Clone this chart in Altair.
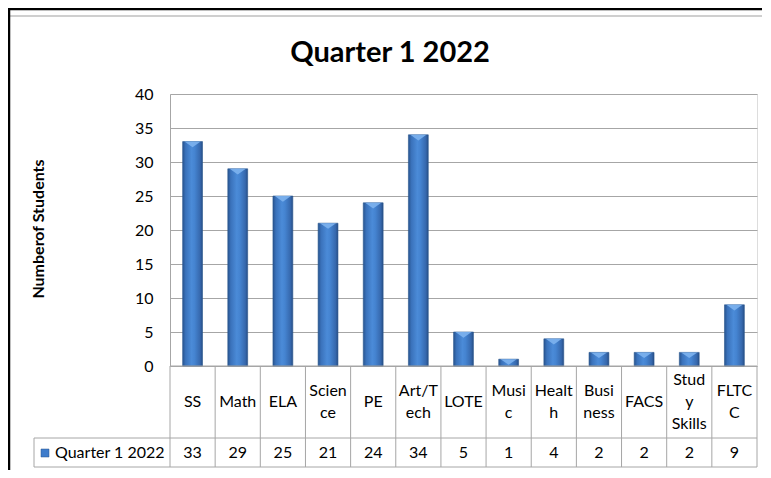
import altair as alt
import pandas as pd

# ---- data ----
categories = ["SS", "Math", "ELA", "Science", "PE", "Art/Tech", "LOTE", "Music",
              "Health", "Business", "FACS", "Study Skills", "FLTCC"]
cell_labels = ["SS", "Math", "ELA", "Scien|ce", "PE", "Art/T|ech", "LOTE", "Musi|c",
               "Healt|h", "Busi|ness", "FACS", "Stud|y|Skills", "FLTC|C"]
values = [33, 29, 25, 21, 24, 34, 5, 1, 4, 2, 2, 2, 9]
series_name = "Quarter 1 2022"
chart_title = "Quarter 1 2022"
y_title = "Numberof Students"
y_ticks = [0, 5, 10, 15, 20, 25, 30, 35, 40]

df = pd.DataFrame({"cat": categories, "lab": cell_labels, "val": values})
df["nl"] = df["lab"].str.count(r"\|") + 1
one = pd.DataFrame({"k": [0]})

W, H = 587, 272
FONT = "Lato"
LINE = "#a6a6a6"

xenc = alt.X("cat:N", sort=categories, axis=None,
             scale=alt.Scale(paddingInner=0, paddingOuter=0))
yscale = alt.Scale(domain=[0, 40], nice=False)
yaxis = alt.Axis(values=y_ticks, title=None, grid=True, gridColor=LINE,
                 domainColor=LINE, ticks=False, labelFontSize=16, labelOverlap=False,
                 labelFont=FONT, labelColor="#000", labelPadding=17)

base = alt.Chart(df)

grad = alt.Gradient(
    gradient="linear", x1=0, x2=1, y1=0, y2=0,
    stops=[
        alt.GradientStop(color="#28548f", offset=0),
        alt.GradientStop(color="#3a72bb", offset=0.15),
        alt.GradientStop(color="#4b8bd8", offset=0.45),
        alt.GradientStop(color="#4584d1", offset=0.6),
        alt.GradientStop(color="#3668ad", offset=0.88),
        alt.GradientStop(color="#264d85", offset=1),
    ],
)

bars = base.mark_bar(width=alt.RelativeBandSize(0.44), color=grad,
                     stroke="#2a578f", strokeWidth=0.6).encode(
    x=xenc,
    y=alt.Y("val:Q", scale=yscale, axis=yaxis),
)

bevel = base.mark_point(
    shape="M -1 0 L 1 0 L 0 0.7 Z", filled=True, size=260,
    color="#7db2ee", opacity=0.9, strokeWidth=0,
).encode(x=xenc, y=alt.Y("val:Q", scale=yscale, axis=yaxis))

# data table: category row (centred blocks of 1, 2 or 3 lines), value row
def cat_layer(n):
    return base.transform_filter(alt.datum.nl == n).mark_text(
        font=FONT, fontSize=16, lineBreak="|", lineHeight=22,
        baseline="middle", align="center", color="#000").encode(
        x=xenc, y=alt.value(308 - 11 * (n - 1)), text="lab:N")

cat_texts = [cat_layer(n) for n in (1, 2, 3)]

val_text = base.mark_text(font=FONT, fontSize=16, baseline="middle",
                          align="center", color="#000").encode(
    x=xenc, y=alt.value(359), text="val:Q")

col_lines = base.mark_rule(color=LINE, strokeWidth=1).encode(
    x=alt.X("cat:N", sort=categories, bandPosition=0, axis=None),
    y=alt.value(H), y2=alt.value(373))

r = alt.Chart(one)
right_edge = r.mark_rule(color=LINE).encode(x=alt.value(W), y=alt.value(H), y2=alt.value(373))
axis_line = r.mark_rule(color=LINE).encode(x=alt.value(0), x2=alt.value(W), y=alt.value(H))
sep_line = r.mark_rule(color=LINE).encode(x=alt.value(-136), x2=alt.value(W), y=alt.value(344))
bot_line = r.mark_rule(color=LINE).encode(x=alt.value(-136), x2=alt.value(W), y=alt.value(373))
leg_left = r.mark_rule(color=LINE).encode(x=alt.value(-136), y=alt.value(344), y2=alt.value(373))

leg_sq = r.mark_square(size=64, color="#3f7ccb", opacity=1, stroke="#2a578f",
                       strokeWidth=0.5).encode(x=alt.value(-125), y=alt.value(359))
leg_txt = r.mark_text(font=FONT, fontSize=16, align="left", baseline="middle",
                      color="#000").encode(x=alt.value(-115), y=alt.value(359),
                                           text=alt.value(series_name))

title_txt = r.mark_text(font=FONT, fontSize=29, fontWeight="bold", align="center",
                        baseline="alphabetic", color="#000").encode(
    x=alt.value(220), y=alt.value(-32), text=alt.value(chart_title))
ytitle_txt = r.mark_text(font=FONT, fontSize=16, fontWeight="bold", align="center",
                         baseline="middle", angle=270, color="#000").encode(
    x=alt.value(-131), y=alt.value(135), text=alt.value(y_title))

# frame
frame_gray = r.mark_rule(color="#a0a0a0", strokeWidth=1.2).encode(
    x=alt.value(-160), x2=alt.value(592), y=alt.value(-78))
frame_top = r.mark_rule(color="#000", strokeWidth=2.5).encode(
    x=alt.value(-162), x2=alt.value(592), y=alt.value(-85))
frame_left = r.mark_rule(color="#000", strokeWidth=2.5).encode(
    x=alt.value(-161), y=alt.value(-86), y2=alt.value(376))

chart = alt.layer(
    bars, bevel, col_lines, right_edge, axis_line, sep_line, bot_line, leg_left,
    *cat_texts, val_text, leg_sq, leg_txt, title_txt, ytitle_txt,
    frame_gray, frame_top, frame_left,
).properties(
    width=W, height=H,
    autosize=alt.AutoSizeParams(type="none"),
    padding={"left": 162, "top": 86, "right": 6, "bottom": 104},
).configure_view(strokeWidth=0).configure(background="white")

chart.save("out.html", embed_options={"renderer": "svg", "actions": False})
